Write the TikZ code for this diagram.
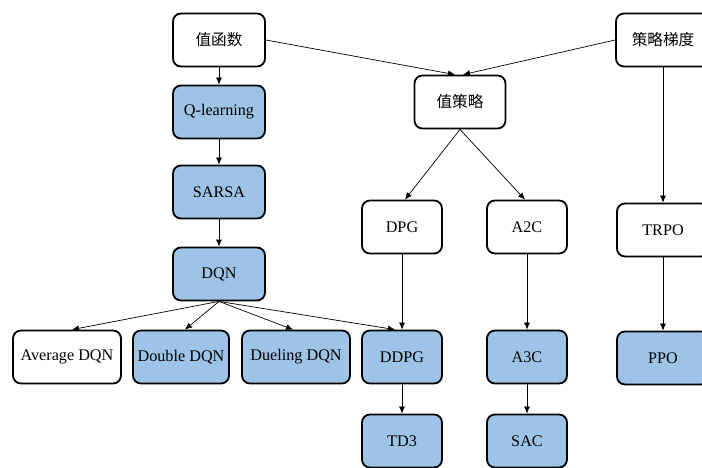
\documentclass[tikz,border=0pt]{standalone}
\usepackage{fontspec}
\setmainfont{Liberation Serif}
\newfontfamily\cjk{Noto Sans CJK SC}
\usetikzlibrary{arrows.meta}
\definecolor{boxblue}{RGB}{157,195,230}
\tikzset{
  box/.style={draw=black, line width=1.8pt, rounded corners=8pt, fill=white,
    minimum height=53pt, minimum width=80pt, inner sep=2pt,
    font=\fontsize{16.2}{19}\selectfont},
  bluebox/.style={box, fill=boxblue},
  cn/.style={font=\cjk\fontsize{15.6}{19}\selectfont},
  link/.style={draw=black, line width=0.7pt, -{Latex[length=7pt,width=6pt]}}
}
\begin{document}
\begin{tikzpicture}[x=1pt,y=-1pt]
\useasboundingbox (0,0) rectangle (702,467);
% value-based branch
\node[box, cn, minimum width=92pt] (vf) at (219,40) {值函数};
\node[bluebox, minimum width=92pt] (ql) at (219,112) {Q-learning};
\node[bluebox, minimum width=92pt] (sarsa) at (219,192) {SARSA};
\node[bluebox, minimum width=92pt] (dqn) at (219,274) {DQN};
\node[box, minimum width=108pt] (avg) at (67,357) {Average DQN};
\node[bluebox, minimum width=96pt] (dbl) at (181,357) {Double DQN};
\node[bluebox, minimum width=108pt] (duel) at (296,357) {Dueling DQN};
% actor-critic branch
\node[box, cn, minimum width=91pt] (vp) at (460,102) {值策略};
\node[box] (dpg) at (402,227) {DPG};
\node[box] (a2c) at (527,227) {A2C};
\node[bluebox] (ddpg) at (402,357) {DDPG};
\node[bluebox] (a3c) at (527,357) {A3C};
\node[bluebox] (td3) at (402,441) {TD3};
\node[bluebox] (sac) at (527,441) {SAC};
% policy-gradient branch
\node[box, cn, minimum width=94pt] (pg) at (663,40) {策略梯度};
\node[box, minimum width=92pt] (trpo) at (663,230) {TRPO};
\node[bluebox, minimum width=92pt] (ppo) at (663,358) {PPO};
% connectors
\draw[link] (vf) -- (ql);
\draw[link] (ql) -- (sarsa);
\draw[link] (sarsa) -- (dqn);
\draw[link] (dqn.south) -- ([xshift=5pt]avg.north);
\draw[link] (dqn.south) -- ([xshift=4pt]dbl.north);
\draw[link] (dqn.south) -- ([xshift=-3pt]duel.north);
\draw[link] (dqn.south) -- ([xshift=-7pt]ddpg.north);
\draw[link] (vf.east) -- ([xshift=-5pt]vp.north);
\draw[link] (pg.west) -- ([xshift=3pt]vp.north);
\draw[link] (vp.south) -- ([xshift=3pt]dpg.north);
\draw[link] (vp.south) -- ([xshift=-2pt]a2c.north);
\draw[link] (dpg) -- (ddpg);
\draw[link] (ddpg) -- (td3);
\draw[link] (a2c) -- (a3c);
\draw[link] (a3c) -- (sac);
\draw[link] (pg) -- (trpo);
\draw[link] (trpo) -- (ppo);
\end{tikzpicture}
\end{document}
